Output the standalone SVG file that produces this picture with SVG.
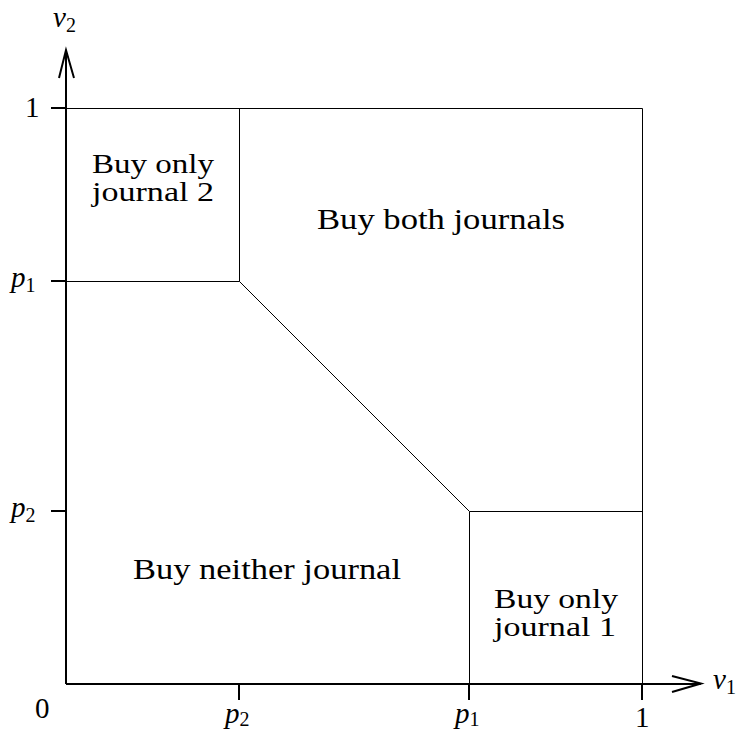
<svg xmlns="http://www.w3.org/2000/svg" width="739" height="734" viewBox="0 0 739 734">
<style>
text{font-family:"Liberation Serif","DejaVu Serif",serif;font-size:29px;fill:#000}
.it{font-style:italic}
.sub{font-size:20px;font-style:normal}
.rg{font-size:27px}
.ax{stroke:#000;stroke-width:2;fill:none}
.ln{stroke:#000;stroke-width:1;fill:none}
</style>
<rect width="739" height="734" fill="#fff"/>
<g id="connectors">
<path class="ax" d="M66,684 V50 M59,78 L66,50 L74,78"/>
<path class="ax" d="M66,684 H701 M672,676 L701,683.5 L672,692"/>
<path class="ax" d="M51,108 H66 M51,281 H66 M51,511 H66 M239,684 V700 M469,684 V700 M642,684 V700"/>
<path class="ln" d="M66,108.5 H642.5 V684 M66,281.5 H239.5 V108 M239.5,281.5 L469.5,511.5 H642.5 M469.5,511.5 V684"/>
</g>
<g id="axis-labels">
<text class="it" x="53" y="27">v<tspan class="sub" dy="5">2</tspan></text>
<text class="it" x="713" y="689">v<tspan class="sub" dy="5">1</tspan></text>
<text x="25" y="117">1</text>
<text class="it" x="11" y="287">p<tspan class="sub" dy="5">1</tspan></text>
<text class="it" x="11" y="517">p<tspan class="sub" dy="5">2</tspan></text>
<text x="35" y="718">0</text>
<text class="it" x="225" y="723">p<tspan class="sub" dy="3">2</tspan></text>
<text class="it" x="455" y="723">p<tspan class="sub" dy="3">1</tspan></text>
<text x="635" y="727">1</text>
</g>
<g id="region-only2"><text class="rg" x="92" y="173" textLength="122" lengthAdjust="spacingAndGlyphs">Buy only</text><text class="rg" x="92" y="201" textLength="122" lengthAdjust="spacingAndGlyphs">journal 2</text></g>
<g id="region-both"><text x="317" y="229" textLength="248" lengthAdjust="spacingAndGlyphs">Buy both journals</text></g>
<g id="region-neither"><text x="133" y="579" textLength="268" lengthAdjust="spacingAndGlyphs">Buy neither journal</text></g>
<g id="region-only1"><text class="rg" x="494" y="608" textLength="124" lengthAdjust="spacingAndGlyphs">Buy only</text><text class="rg" x="494" y="636" textLength="122" lengthAdjust="spacingAndGlyphs">journal 1</text></g>
</svg>
